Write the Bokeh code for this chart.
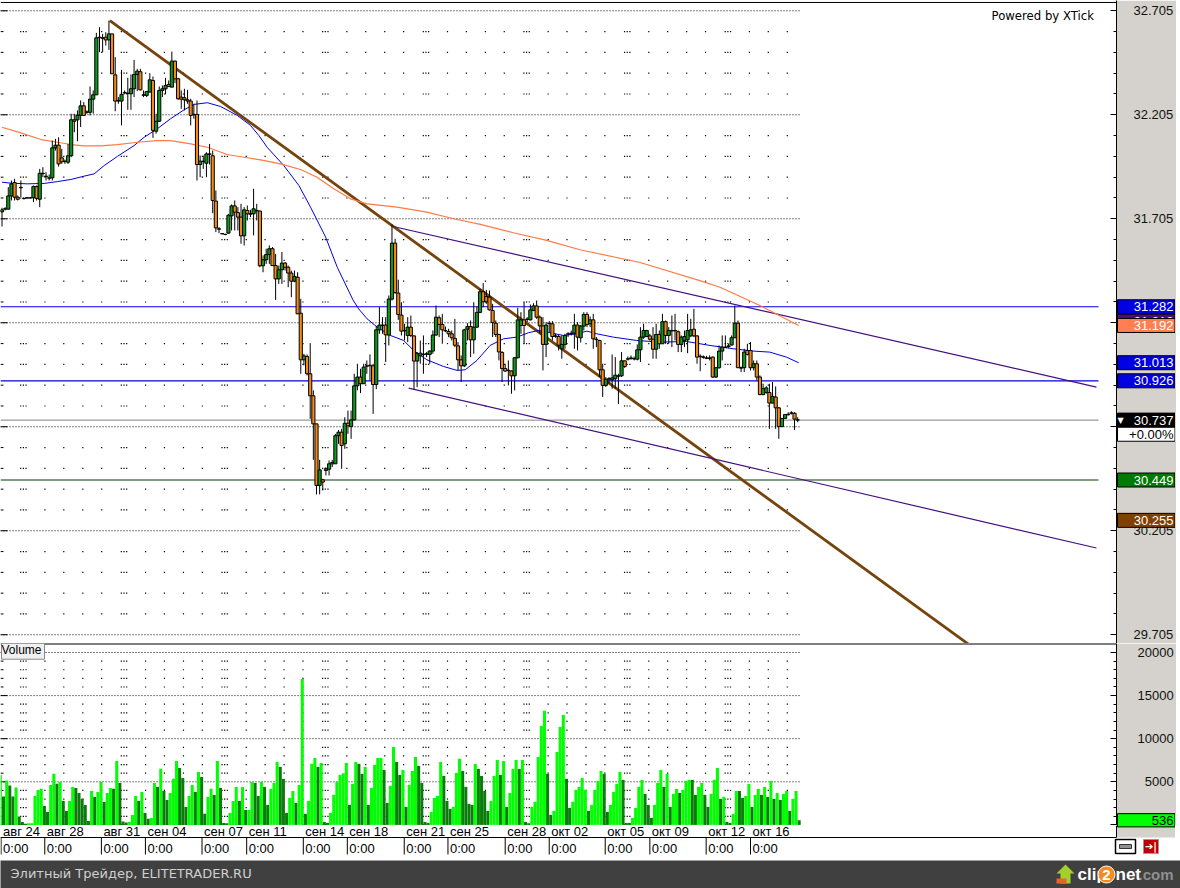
from bokeh.plotting import figure
from bokeh.layouts import column
from bokeh.models import Range1d, FixedTicker, NumeralTickFormatter, Label, Span
from bokeh.core.properties import value
from bokeh.embed import file_html
from bokeh.resources import INLINE

opens = [
31.738,31.752,31.751,31.815,31.879,31.809,31.856,31.803,31.806,31.806,
31.806,31.860,31.799,31.924,31.910,31.902,31.902,32.046,32.059,31.998,
31.982,31.977,32.008,32.181,32.181,32.202,32.248,32.219,32.217,32.280,
32.301,32.578,32.575,32.578,32.565,32.594,32.397,32.274,32.271,32.312,
32.309,32.306,32.330,32.399,32.412,32.301,32.298,32.314,32.370,32.126,
32.174,32.322,32.330,32.351,32.338,32.463,32.378,32.290,32.287,32.277,
32.271,32.207,32.207,31.966,31.982,31.972,32.017,32.008,31.790,31.657,
31.634,31.630,31.636,31.719,31.767,31.735,31.713,31.623,31.745,31.729,
31.729,31.745,31.742,31.479,31.508,31.533,31.561,31.480,31.416,31.460,
31.492,31.472,31.444,31.405,31.424,31.251,31.027,31.043,30.960,30.854,
30.719,30.423,30.450,30.495,30.501,30.533,30.527,30.662,30.679,30.623,
30.722,30.706,30.738,30.902,30.944,30.912,30.998,31.001,30.998,30.908,
31.171,31.194,31.194,31.146,31.319,31.588,31.348,31.242,31.168,31.144,
31.184,31.142,31.021,31.046,31.054,31.056,31.053,31.069,31.146,31.229,
31.197,31.168,31.163,31.152,31.130,31.094,31.027,30.998,31.174,31.187,
31.123,31.184,31.255,31.354,31.331,31.328,31.264,31.203,31.149,31.062,
30.985,30.977,30.973,30.950,31.037,31.192,31.219,31.223,31.219,31.264,
31.286,31.232,31.190,31.101,31.203,31.200,31.142,31.139,31.080,31.101,
31.152,31.155,31.155,31.194,31.133,31.189,31.245,31.200,31.219,31.126,
31.120,30.979,30.904,30.936,30.931,30.936,30.950,30.950,31.022,31.032,
31.036,31.033,31.030,31.075,31.136,31.139,31.142,31.126,31.078,31.149,
31.104,31.210,31.144,31.168,31.168,31.162,31.101,31.120,31.123,31.142,
31.174,31.142,31.044,31.041,31.036,31.036,31.040,30.944,30.989,31.069,
31.088,31.090,31.098,31.133,31.203,30.989,30.989,31.072,31.072,30.989,
31.008,30.944,30.860,30.870,30.870,30.819,30.848,30.796,30.706,30.745,
30.765,30.772,30.770,30.739]

highs = [
31.758,31.761,31.857,31.889,31.897,31.817,31.889,31.806,31.809,31.809,
31.865,31.865,31.945,31.953,31.929,31.918,32.081,32.089,32.097,32.041,
31.990,32.065,32.210,32.210,32.226,32.274,32.266,32.226,32.341,32.322,
32.599,32.626,32.594,32.602,32.658,32.594,32.482,32.290,32.421,32.322,
32.383,32.399,32.469,32.426,32.426,32.322,32.319,32.405,32.389,32.210,
32.341,32.346,32.383,32.370,32.509,32.466,32.383,32.322,32.330,32.325,
32.282,32.258,32.274,32.009,32.009,32.025,32.065,32.033,31.841,31.665,
31.636,31.633,31.729,31.774,31.793,31.761,31.777,31.761,31.769,31.748,
31.849,31.777,31.745,31.529,31.561,31.577,31.569,31.536,31.480,31.545,
31.497,31.480,31.456,31.456,31.448,31.320,31.056,31.053,31.107,30.880,
30.719,30.546,30.455,30.510,30.543,30.546,30.671,30.690,30.695,30.751,
30.783,30.783,30.960,31.008,30.984,31.008,31.024,31.053,31.008,31.190,
31.280,31.232,31.232,31.336,31.678,31.609,31.412,31.304,31.200,31.232,
31.240,31.144,31.064,31.120,31.144,31.064,31.072,31.168,31.288,31.240,
31.248,31.187,31.176,31.168,31.224,31.112,31.048,31.176,31.203,31.216,
31.304,31.283,31.368,31.396,31.363,31.360,31.296,31.216,31.152,31.069,
31.008,31.024,30.976,31.040,31.277,31.256,31.304,31.232,31.293,31.299,
31.312,31.240,31.232,31.208,31.213,31.213,31.152,31.149,31.144,31.152,
31.160,31.168,31.248,31.208,31.195,31.256,31.256,31.235,31.248,31.136,
31.123,31.008,30.944,30.944,31.053,31.040,30.960,31.064,31.024,31.043,
31.048,31.043,31.101,31.184,31.200,31.171,31.152,31.184,31.200,31.168,
31.248,31.216,31.184,31.240,31.248,31.168,31.144,31.168,31.248,31.224,
31.272,31.144,31.053,31.048,31.046,31.048,31.043,30.992,31.096,31.144,
31.144,31.104,31.144,31.288,31.216,30.995,31.080,31.104,31.112,31.024,
31.024,30.952,30.912,30.900,30.912,30.920,30.899,30.800,30.748,30.767,
30.775,30.780,30.775,30.751]

lows = [
31.668,31.745,31.751,31.793,31.793,31.793,31.809,31.798,31.803,31.803,
31.785,31.793,31.761,31.905,31.889,31.889,31.889,32.033,31.956,31.969,
31.969,31.969,32.001,32.121,32.078,32.146,32.202,32.210,32.202,32.210,
32.301,32.506,32.506,32.538,32.517,32.402,32.222,32.258,32.154,32.306,
32.229,32.229,32.290,32.319,32.322,32.290,32.290,32.314,32.094,32.114,
32.170,32.290,32.303,32.338,32.338,32.357,32.277,32.234,32.226,32.258,
32.154,32.186,31.889,31.905,31.945,31.905,31.966,31.732,31.641,31.636,
31.630,31.627,31.633,31.649,31.649,31.649,31.585,31.577,31.697,31.713,
31.625,31.697,31.472,31.448,31.488,31.488,31.480,31.315,31.392,31.392,
31.456,31.376,31.328,31.400,31.248,30.960,31.000,30.952,30.743,30.546,
30.380,30.380,30.399,30.471,30.471,30.511,30.527,30.623,30.503,30.599,
30.671,30.647,30.735,30.880,30.867,30.912,30.960,30.928,30.767,30.886,
31.152,31.152,31.016,31.096,31.312,31.344,31.219,31.144,31.120,31.112,
31.136,30.886,30.896,31.008,30.960,31.040,31.008,31.056,31.144,31.136,
31.104,31.160,31.136,31.120,31.088,30.976,30.921,30.992,31.120,31.040,
31.056,31.181,31.251,31.280,31.296,31.264,31.136,31.136,31.024,30.920,
30.969,30.904,30.864,30.880,31.033,31.152,31.104,31.208,31.216,31.261,
31.224,31.152,30.976,31.040,31.160,31.120,31.133,31.072,31.032,31.080,
31.136,31.144,31.080,31.072,31.110,31.168,31.184,31.184,31.080,31.088,
30.944,30.848,30.896,30.912,30.888,30.888,30.815,30.944,30.988,31.024,
31.027,31.024,31.024,31.016,31.128,31.136,31.120,31.032,31.032,31.080,
31.104,31.104,31.104,31.088,31.120,31.064,31.064,31.088,31.059,31.136,
31.136,31.008,30.972,31.032,31.030,31.024,30.940,30.940,30.984,31.024,
31.085,31.085,31.096,31.133,30.989,30.968,30.968,31.048,30.976,30.976,
30.928,30.856,30.856,30.864,30.695,30.818,30.695,30.647,30.703,30.743,
30.759,30.764,30.690,30.727]

closes = [
31.748,31.753,31.815,31.873,31.809,31.799,31.854,31.802,31.805,31.805,
31.860,31.803,31.924,31.922,31.908,31.900,32.046,32.059,31.969,31.979,
31.980,32.008,32.181,32.174,32.202,32.248,32.202,32.217,32.280,32.301,
32.575,32.576,32.573,32.565,32.594,32.402,32.271,32.271,32.303,32.310,
32.307,32.330,32.399,32.415,32.325,32.299,32.317,32.373,32.130,32.174,
32.322,32.330,32.346,32.341,32.463,32.378,32.282,32.280,32.277,32.271,
32.202,32.205,31.966,31.982,31.980,32.017,32.015,31.793,31.661,31.655,
31.633,31.629,31.722,31.767,31.737,31.713,31.623,31.748,31.729,31.727,
31.753,31.743,31.479,31.508,31.533,31.561,31.480,31.416,31.460,31.492,
31.472,31.444,31.405,31.428,31.248,31.027,31.046,30.960,30.854,30.719,
30.423,30.498,30.439,30.503,30.527,30.527,30.662,30.679,30.615,30.722,
30.710,30.738,30.902,30.944,30.912,30.992,30.996,30.999,30.908,31.171,
31.194,31.192,31.147,31.319,31.588,31.351,31.245,31.165,31.166,31.184,
31.144,31.021,31.056,31.059,31.052,31.054,31.069,31.146,31.232,31.197,
31.171,31.166,31.152,31.133,31.097,31.027,30.998,31.171,31.187,31.123,
31.184,31.255,31.354,31.306,31.306,31.267,31.206,31.149,31.065,30.985,
30.973,30.975,30.950,31.037,31.219,31.219,31.192,31.221,31.267,31.286,
31.232,31.190,31.101,31.194,31.201,31.139,31.140,31.097,31.101,31.144,
31.150,31.153,31.194,31.136,31.189,31.245,31.197,31.219,31.128,31.124,
30.979,30.904,30.934,30.934,30.940,30.953,30.948,31.022,30.995,31.030,
31.034,31.031,31.075,31.136,31.168,31.168,31.126,31.078,31.149,31.104,
31.210,31.144,31.168,31.166,31.166,31.101,31.136,31.139,31.168,31.171,
31.142,31.040,31.042,31.039,31.034,31.034,30.944,30.989,31.069,31.088,
31.086,31.094,31.133,31.203,30.989,30.987,31.064,31.053,30.989,31.008,
30.944,30.860,30.888,30.892,30.819,30.851,30.796,30.706,30.745,30.764,
30.763,30.770,30.742,30.737]

volumes = [
5800,3290,5140,4560,3290,4330,970,350,120,190,
190,3360,4060,4180,2200,1510,4640,5920,4760,4990,
2780,1620,2780,4410,4290,3710,3020,2320,460,3940,
3250,3830,4990,2670,3710,4290,4180,7420,4870,390,
270,350,1160,3360,2780,3830,1390,700,810,4870,
4410,6500,3940,2900,3710,5340,7420,6610,5450,2090,
3360,4640,3830,6150,5570,1280,3250,4180,3480,7420,
4290,230,190,1390,2780,4410,2780,4410,1740,1740,
4990,4870,3360,4990,4410,2320,4180,4870,7310,6730,
5340,1390,3130,3940,2550,4640,16940,1280,2780,7080,
7770,6730,7190,350,230,1390,3480,4990,5800,5990,
7190,2320,4760,7310,7080,5920,6730,2320,4290,6960,
7770,7770,6380,2550,4520,9050,7310,5800,
6380,2090,4640,6260,7890,6840,4870,350,230,1510,
3130,3360,7310,5680,2780,1860,2090,6030,7660,6260,
4410,2440,2320,7080,6500,5680,3940,1620,2780,5680,
7540,5800,7420,2090,3710,6500,7540,6500,7540,350,
190,2090,2670,7890,11480,13230,5920,1160,1620,8470,
11370,12760,5340,1970,2670,4060,4410,5450,4060,1620,
2320,4060,5100,6260,5920,1510,2320,3830,4760,6150,
5220,230,230,810,1970,4410,5220,3600,2320,810,
2320,4870,6380,4410,5920,2090,3600,4180,3710,4060,
5100,5220,5220,3480,4410,4870,3480,2090,3600,5220,
6610,3020,3250,350,230,1280,3940,3940,3130,3360,
4760,2090,3480,4180,3480,4410,3250,5100,3020,3710,
2900,3600,3940,1620,3020,3940,536]

volume_shades = ("LDLDDLDDDL" "LLLLDDLLDL" "DDLLDDDDDL" "DLLDLLDLDD" "DLLLDLDDLL"
                 "DLDDLLLDDD" "LLDLDDLLDL" "DDDLLLDLDL" "LDDLDDLLLD" "DDLLDLLDLL"
                 "LDLDDLLLLL" "LDLLDDLDLL" "LLDDLLDD"
                 "LDLLLDDDDL" "LLLDDDLLLD" "DDDLDDDDLL" "LDLDLLLDLD" "DLLLLLDDLL"
                 "LLDDLLLLLD" "LLLLDDLLLL" "DDDLLLLDDD" "LLLDLDLLDL" "LLDDLLDDLL"
                 "LDLDDLLDDL" "LDLLDLDLDL" "DLLDLLD")

blue_ma_idx = [0,2.9,8.1,13.4,17.7,21.9,26.1,29.3,32.5,36.7,42,45.2,49.4,53.6,57.9,61.1,65.3,69.5,74.8,79,81.7,84.3,89.6,94.4,98.1,102.9,106.6,111.6,113.4,116.1,119.3,123.5,127.7,130.9,135.1,140.4,144.7,147.3,151,155.2,159.5,163.7,167.4,170.6,174.3,178.5,182.8,186,189.1,194.4,201.8,209.2,217.7,225.1,232.5,238.8,244.1,249.4,253.3]
blue_ma_val = [31.881,31.876,31.873,31.875,31.884,31.894,31.910,31.921,31.961,32.005,32.057,32.097,32.138,32.186,32.229,32.255,32.263,32.245,32.202,32.154,32.105,32.049,31.961,31.865,31.761,31.617,31.472,31.315,31.272,31.224,31.184,31.144,31.120,31.072,31.027,30.995,30.976,30.979,31.024,31.096,31.128,31.136,31.157,31.168,31.157,31.144,31.152,31.165,31.152,31.136,31.120,31.112,31.115,31.096,31.080,31.069,31.064,31.040,31.013]
orange_ma_idx = [0,6,12.4,17.7,21.9,26.1,31.4,36.7,43.1,49.4,53.6,60,65.3,71.6,76.9,82.2,88.6,94.9,100.2,105.5,110.8,116.1,125.6,135.1,143.6,152.1,162.6,173.2,183.8,202.9,221.9,228.3,241,253.3]
orange_ma_val = [32.145,32.118,32.086,32.073,32.062,32.056,32.056,32.062,32.073,32.081,32.081,32.065,32.049,32.014,32.001,31.988,31.969,31.942,31.905,31.849,31.801,31.777,31.761,31.737,31.705,31.678,31.638,31.601,31.556,31.495,31.408,31.376,31.288,31.192]

trend_idx = [[34.3,320],[124.4,348],[129.3,348]]
trend_val = [[32.658,29.520],[31.668,30.896],[30.891,30.122]]
level_prices = [31.282,30.926,30.449]
level_colors = ["#0000e0","#0000e0","#003c00"]
last_price = 30.737

tag_prices = [31.282,31.213,31.192,31.013,30.926,30.737,30.669,30.449,30.255]
tag_texts = ["31.282","31.213","31.192","31.013","30.926","30.737","+0.00%","30.449","30.255"]
tag_fills = ["#0000e0","#4b0e82","#ff7f50","#0000e0","#0000e0","black","white","#007a00","#804000"]
tag_inks = ["white","white","white","white","white","white","black","white","white"]

price_major = [32.705,32.205,31.705,31.205,30.705,30.205,29.705]
price_axis_labels = [32.705,32.205,31.705,30.205,29.705]
volume_major = [0,5000,10000,15000,20000]
date_ticks = [-0.3,13.6,31.6,45.6,63.6,77.8,95.8,109.8,127.9,141.8,160,174,191.8,206,223.9,238]
date_labels = ["авг 24","авг 28","авг 31","сен 04","сен 07","сен 11","сен 14","сен 18",
               "сен 21","сен 25","сен 28","окт 02","окт 05","окт 09","окт 12","окт 16"]

n = len(opens)
if not (len(highs) == len(lows) == len(closes) == n and len(volumes) == len(volume_shades)):
    raise ValueError(f"{n} {len(highs)} {len(lows)} {len(closes)} {len(volumes)} {len(volume_shades)}")

STRIP = "#d5d1cd"
FONT = value("Liberation Sans")
X0, STEP = 1.5, 3.145
def bar(px):
    return (px - X0) / STEP
xr = Range1d(bar(0), bar(1116))
cols = []
for t in range(8):
    c = 6.8 + 32 * t
    cols += [c - 0.85, c, c + 0.85, c + 6.85, c + 12.85, c + 18.9, c + 24.9]
cols = [c for c in cols if c <= 254]
END = bar(799)


def panel(height, yr, ticks, minor, standoff):
    p = figure(frame_width=1116, frame_height=height, x_range=xr, y_range=yr,
               output_backend="svg", toolbar_location=None, x_axis_location=None,
               y_axis_location="right", min_border=0, min_border_left=0, min_border_top=0,
               min_border_bottom=0, min_border_right=59, border_fill_color=STRIP,
               background_fill_color="white", outline_line_color=None)
    p.grid.visible = False
    ax = p.yaxis[0]
    ax.ticker = FixedTicker(ticks=ticks, minor_ticks=minor)
    ax.axis_line_color = "black"
    ax.major_tick_line_color = "black"
    ax.minor_tick_line_color = "black"
    ax.major_tick_in, ax.major_tick_out = 6, 0
    ax.minor_tick_in, ax.minor_tick_out = 3, 0
    ax.major_label_standoff = standoff
    ax.major_label_text_font = "Liberation Sans"
    ax.major_label_text_font_size = "13px"
    ax.major_label_text_color = "#111111"
    # dotted rows and tick stubs
    for lv in ticks:
        p.line([bar(0), END], [lv, lv], line_color="black", line_dash="1 2", line_width=1)
        p.line([bar(0), bar(7)], [lv, lv], line_color="black", line_width=1)
    rows = [m for m in minor if m not in ticks]
    p.segment(x0=[bar(0)] * len(rows), x1=[bar(3)] * len(rows), y0=rows, y1=rows, line_color="black")
    xs, ys = [], []
    for r in rows:
        for c in cols:
            xs.append(c); ys.append(r)
    p.scatter(xs, ys, marker="square", size=1.2, fill_color="black", line_color=None)
    return p


def overlay(height, yr, left, top):
    o = figure(width=59, height=height, x_range=Range1d(0, 59), y_range=yr,
               output_backend="svg", toolbar_location=None, x_axis_location=None, y_axis_location=None,
               min_border=0, outline_line_color=None, background_fill_color=None, border_fill_color=None,
               styles={"position": "absolute", "left": f"{left}px", "top": f"{top}px"})
    o.grid.visible = False
    return o


# ---------- price panel ----------
price_minor = [round(32.705 - 0.1 * i, 3) for i in range(31)]
price_range = Range1d(29.663, 32.7545)
pp = panel(643, price_range, price_major, price_minor, 17)
pp.yaxis[0].ticker = FixedTicker(ticks=price_axis_labels + [31.205, 30.705], minor_ticks=price_minor)
pp.yaxis[0].major_label_overrides = {31.205: "", 30.705: ""}
pp.yaxis[0].formatter = NumeralTickFormatter(format="0.000")
pp.add_layout(Span(location=32.745, dimension="width", line_color="black", line_width=1))

pp.segment(x0=[bar(0)] * 3, x1=[bar(1098)] * 3, y0=level_prices, y1=level_prices,
           line_color=level_colors, line_width=1.2)
pp.line([bar(0), bar(1098)], [last_price, last_price], line_color="#808080", line_width=1)
pp.line(trend_idx[0], trend_val[0], line_color="#74440c", line_width=2.8)
pp.line(trend_idx[1], trend_val[1], line_color="#45107f", line_width=1.2)
pp.line(trend_idx[2], trend_val[2], line_color="#45107f", line_width=1.2)
pp.line(blue_ma_idx, blue_ma_val, line_color="#0000e0", line_width=1)
pp.line(orange_ma_idx, orange_ma_val, line_color="#ff7a45", line_width=1.2)

idx = list(range(n))
pp.segment(idx, highs, idx, lows, line_color="black", line_width=1)
tops = [max(a, b) for a, b in zip(opens, closes)]
bots = [min(a, b) for a, b in zip(opens, closes)]
body_colors = ["#0b9a1a" if c >= o else "#f58a12" for o, c in zip(opens, closes)]
pp.vbar(x=idx, width=1.0, top=tops, bottom=bots, fill_color=body_colors, line_color="black", line_width=1)

pp.text(x=[bar(991)], y=[32.682], text=["Powered by XTick"], text_font=value("DejaVu Sans"),
        text_font_size="11.7px", text_baseline="middle", text_color="black")

# value tags, drawn over the axis strip in the price scale
pt = overlay(643, price_range, 1116, 0)
half = 7.0 / 208
for price, label, fill, ink in zip(tag_prices, tag_texts, tag_fills, tag_inks):
    pt.quad(left=[1], right=[58.5], top=[price + half], bottom=[price - half],
            fill_color=fill, line_color="black", line_width=1)
    pt.text(x=[57], y=[price], text=[label], text_align="right", text_baseline="middle",
            text_font=FONT, text_font_size="13px", text_color=ink)
pt.text(x=[4], y=[last_price], text=["▼"], text_align="center", text_baseline="middle",
        text_font=value("DejaVu Sans"), text_font_size="8px", text_color="white")

# ---------- volume panel ----------
vol_minor = list(range(0, 21000, 1000))
VOL_PER_PX = 21114 / 182
vol_range = Range1d(-70, 21044)
vp = panel(182, vol_range, volume_major[1:], vol_minor, 21)
vp.yaxis[0].ticker = FixedTicker(ticks=volume_major, minor_ticks=vol_minor)
vp.yaxis[0].major_label_overrides = {0: "\u2007\u2007\u2007\u20070", 5000: "\u20075000",
                                     10000: "10000", 15000: "15000", 20000: "20000"}
vp.add_layout(Span(location=21044, dimension="width", line_color="black", line_width=2))
vol_x = [i - 0.52 for i in range(len(volumes))]
vol_colors = ["#00ff00" if s == "L" else "#0a7c0a" for s in volume_shades]
vp.vbar(x=vol_x, width=0.96, top=volumes, bottom=0, fill_color=vol_colors, line_color=None)
vp.add_layout(Label(x=1, y=20150, x_units="screen", y_units="data", text="Volume",
                    text_baseline="middle", text_font="Liberation Sans", text_font_size="12px",
                    text_color="black", background_fill_color="#f0f0f0",
                    border_line_color="#888888", padding=(0, 3, 0, 2), level="overlay"))

# the tag for the last volume reaches a little below the panel, so its overlay is taller
vt = overlay(190, Range1d(-70 - 8 * VOL_PER_PX, 21044), 1116, 643)
vol_half = 6.6 * VOL_PER_PX
vt.quad(left=[1], right=[58.5], top=[volumes[-1] + vol_half], bottom=[volumes[-1] - vol_half],
        fill_color="#00ff00", line_color="black", line_width=1)
vt.text(x=[57], y=[volumes[-1]], text=[str(volumes[-1])], text_align="right", text_baseline="middle",
        text_font=FONT, text_font_size="13px", text_color="black")

# ---------- date rows ----------
dp = figure(width=1175, height=35, x_range=Range1d(bar(0), bar(1175)), y_range=Range1d(35, 0),
            output_backend="svg", toolbar_location=None, x_axis_location=None, y_axis_location=None,
            min_border=0, outline_line_color=None, background_fill_color="white", border_fill_color="white",
            frame_align=False)
dp.grid.visible = False
dp.quad(left=[bar(1116)], right=[bar(1175)], top=[0], bottom=[12], fill_color=STRIP, line_color=None)
dp.segment(x0=[bar(0)], x1=[bar(1116)], y0=[12], y1=[12], line_color="black", line_width=1.2)
dp.segment(x0=[bar(1116)], x1=[bar(1116)], y0=[0], y1=[12], line_color="black", line_width=1)
dp.segment(x0=date_ticks, x1=date_ticks, y0=[12] * 16, y1=[29] * 16, line_color="black", line_width=1)
dp.text(x=date_ticks, y=[6] * 16, text=date_labels, x_offset=2, text_baseline="middle",
        text_font=FONT, text_font_size="13px", text_color="black")
dp.text(x=date_ticks, y=[23] * 16, text=["0:00"] * 16, x_offset=2, text_baseline="middle",
        text_font=FONT, text_font_size="13px", text_color="black")
dp.quad(left=[bar(1115)], right=[bar(1135)], top=[14], bottom=[28], fill_color="white", line_color="black", line_width=1.5)
dp.quad(left=[bar(1119)], right=[bar(1131)], top=[19], bottom=[23], fill_color="#909090", line_color="#333333")
dp.quad(left=[bar(1143)], right=[bar(1158)], top=[14], bottom=[28], fill_color="#c00000", line_color="#999999")
dp.text(x=[bar(1150.5)], y=[21], text=["➔|"], text_align="center", text_baseline="middle",
        text_font=value("DejaVu Sans"), text_font_size="10px", text_color="white", text_font_style="bold")

# ---------- footer ----------
fp = figure(width=1180, height=28, x_range=Range1d(0, 1180), y_range=Range1d(28, 0),
            output_backend="svg", toolbar_location=None, x_axis_location=None, y_axis_location=None,
            min_border=0, outline_line_color=None, background_fill_color="#404040", border_fill_color="#404040",
            frame_align=False)
fp.grid.visible = False
fp.text(x=[10], y=[13], text=["Элитный Трейдер, ELITETRADER.RU"], text_baseline="middle",
        text_font=value("DejaVu Sans"), text_font_size="13px", text_color="#cfcfcf")
fp.patch([1060, 1060, 1056, 1065, 1074, 1070, 1070], [23, 13, 13, 4, 13, 13, 23], fill_color="#a4cf2c", line_color=None)
fp.quad(left=[1056], right=[1066], top=[18], bottom=[23], fill_color="#e8622a", line_color=None)
fp.text(x=[1077], y=[14], text=["clip"], text_baseline="middle", text_font=FONT,
        text_font_size="17px", text_font_style="bold", text_color="white")
fp.circle(x=[1106], y=[14], radius=8.5, fill_color="#f58a1f", line_color="white")
fp.text(x=[1106], y=[14], text=["2"], text_baseline="middle", text_align="center", text_font=FONT,
        text_font_size="15px", text_font_style="bold", text_color="white")
fp.text(x=[1115], y=[14], text=["net"], text_baseline="middle", text_font=FONT,
        text_font_size="17px", text_font_style="bold", text_color="white")
fp.text(x=[1138], y=[14], text=[".com"], text_baseline="middle", text_font=FONT,
        text_font_size="15px", text_font_style="bold", text_color="#8f8f8f")

page = column(pp, vp, dp, fp, spacing=0, styles={"position": "absolute", "left": "0px", "top": "0px"})
open("out.html", "w").write(file_html([page, pt, vt], INLINE))
